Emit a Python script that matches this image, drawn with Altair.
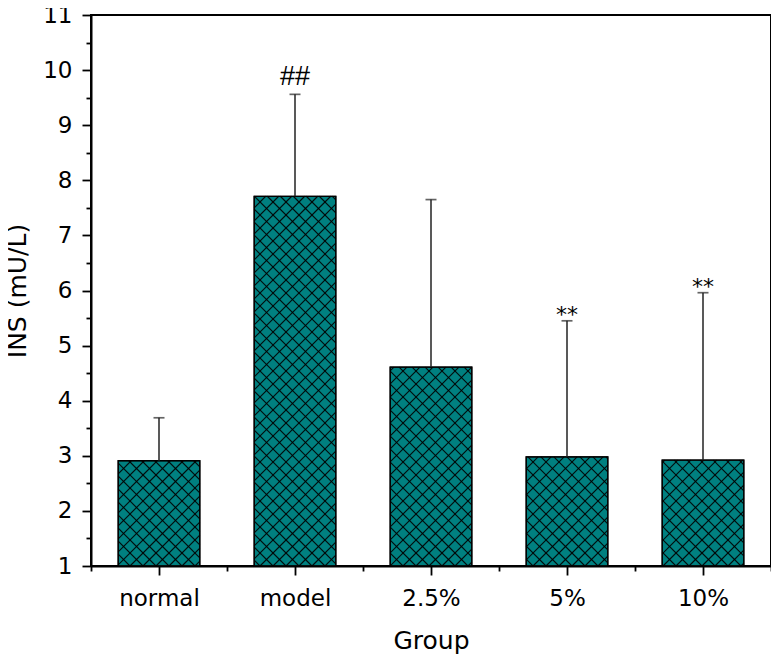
import json
import numpy as np
import pandas as pd
import altair as alt

# ---- data ----
groups = ["normal", "model", "2.5%", "5%", "10%"]
means = [2.91, 7.71, 4.61, 2.98, 2.92]
err_top = [3.69, 9.56, 7.65, 5.45, 5.96]
sig_marks = ["", "##", "", "**", "**"]
y_ticks = list(range(1, 12))

# ---- layout constants ----
W, H = 680, 551
X0, X1 = -0.5, 4.5
Y0, Y1 = 1, 11
HALF = 0.3           # half bar width in category units
HATCH = 13.0         # hatch spacing in px
FILL = "#008080"
FONT = "DejaVu Sans"

sx = W / (X1 - X0)
sy = H / (Y1 - Y0)

idx = list(range(len(groups)))
bars = pd.DataFrame({
    "i": idx,
    "lo": [i - HALF for i in idx],
    "hi": [i + HALF for i in idx],
    "mean": means,
    "base": [Y0] * len(idx),
    "err": err_top,
    "mark": sig_marks,
})

# hatch segments derived from the bar rectangles (crosshatch clipped to each bar)
rows = []
for i, v in zip(idx, means):
    L = (i - HALF - X0) * sx
    R = (i + HALF - X0) * sx
    T = (v - Y0) * sy
    for c in np.arange(np.floor((L - T) / HATCH) * HATCH, R + HATCH, HATCH):
        lo_, hi_ = max(0.0, L - c), min(T, R - c)
        if hi_ > lo_:
            rows.append({"x": (lo_ + c) / sx + X0, "x2": (hi_ + c) / sx + X0,
                         "y": lo_ / sy + Y0, "y2": hi_ / sy + Y0})
    for c in np.arange(np.floor(L / HATCH) * HATCH, R + T + HATCH, HATCH):
        lo_, hi_ = max(0.0, c - R), min(T, c - L)
        if hi_ > lo_:
            rows.append({"x": (c - lo_) / sx + X0, "x2": (c - hi_) / sx + X0,
                         "y": lo_ / sy + Y0, "y2": hi_ / sy + Y0})
hatch = pd.DataFrame(rows)

xscale = alt.Scale(domain=[X0, X1], nice=False, zero=False)
yscale = alt.Scale(domain=[Y0, Y1], nice=False, zero=False)

label_expr = "%s[round(datum.value)]" % json.dumps(groups)

x_axis = alt.Axis(values=idx, labelExpr=label_expr, title="Group", orient="bottom",
                  tickSize=9, tickWidth=1.8, tickColor="black", domainWidth=2,
                  domainColor="black", labelFont=FONT, labelFontSize=23,
                  labelColor="black", labelPadding=12, titleFont=FONT,
                  titleFontSize=25, titleFontWeight="normal", titleColor="black",
                  titlePadding=18, grid=False, labelFlush=False)
y_axis = alt.Axis(values=y_ticks, format="d", title="INS (mU/L)", orient="left",
                  tickSize=9, tickWidth=1.8, tickColor="black", domainWidth=2,
                  domainColor="black", labelFont=FONT, labelFontSize=23,
                  labelColor="black", labelPadding=10, titleFont=FONT,
                  titleFontSize=25, titleFontWeight="normal", titleColor="black",
                  titlePadding=12, grid=False, labelFlush=False)

base = alt.Chart(bars)

bar_layer = base.mark_rect(fill=FILL, stroke="black", strokeWidth=1.2).encode(
    x=alt.X("lo:Q", scale=xscale, axis=x_axis),
    x2="hi:Q",
    y=alt.Y("mean:Q", scale=yscale, axis=y_axis),
    y2="base:Q",
)

hatch_layer = alt.Chart(hatch).mark_rule(color="black", strokeWidth=1.15, opacity=0.9).encode(
    x=alt.X("x:Q", scale=xscale, axis=None),
    x2="x2:Q",
    y=alt.Y("y:Q", scale=yscale, axis=None),
    y2="y2:Q",
)

outline = base.mark_rect(fill=None, stroke="black", strokeWidth=1.3).encode(
    x=alt.X("lo:Q", scale=xscale, axis=None),
    x2="hi:Q",
    y=alt.Y("mean:Q", scale=yscale, axis=None),
    y2="base:Q",
)

err_line = base.mark_rule(color="#222222", strokeWidth=1.5).encode(
    x=alt.X("i:Q", scale=xscale, axis=None),
    y=alt.Y("mean:Q", scale=yscale, axis=None),
    y2="err:Q",
)
err_cap = base.mark_tick(orient="horizontal", size=11, thickness=1.7, color="#222222").encode(
    x=alt.X("i:Q", scale=xscale, axis=None),
    y=alt.Y("err:Q", scale=yscale, axis=None),
)

hash_text = base.transform_filter("datum.mark == '##'").mark_text(
    font="Liberation Sans", fontSize=27, baseline="alphabetic", dy=-9, color="black"
).encode(
    x=alt.X("i:Q", scale=xscale, axis=None),
    y=alt.Y("err:Q", scale=yscale, axis=None),
    text="mark:N",
)
star_text = base.transform_filter("datum.mark == '**'").mark_text(
    font=FONT, fontSize=22, baseline="alphabetic", dy=1, color="black"
).encode(
    x=alt.X("i:Q", scale=xscale, axis=None),
    y=alt.Y("err:Q", scale=yscale, axis=None),
    text="mark:N",
)

# minor ticks
x_minor = [i + 0.5 for i in range(-1, len(groups))]
y_minor = [t + 0.5 for t in y_ticks[:-1]]
minor_x_layer = alt.Chart(pd.DataFrame({"v": x_minor})).mark_point(opacity=0).encode(
    x=alt.X("v:Q", scale=xscale,
            axis=alt.Axis(values=x_minor, labels=False, domain=False, title=None,
                          tickSize=5, tickWidth=1.8, tickColor="black", grid=False,
                          orient="bottom")),
)
minor_y_layer = alt.Chart(pd.DataFrame({"v": y_minor})).mark_point(opacity=0).encode(
    y=alt.Y("v:Q", scale=yscale,
            axis=alt.Axis(values=y_minor, labels=False, domain=False, title=None,
                          tickSize=5, tickWidth=1.8, tickColor="black", grid=False,
                          orient="left")),
)

chart = alt.layer(
    bar_layer, hatch_layer, outline, err_line, err_cap, hash_text, star_text,
    minor_x_layer, minor_y_layer,
).resolve_axis(x="independent", y="independent").properties(
    width=W, height=H,
    autosize=alt.AutoSizeParams(type="none"),
    padding={"left": 83, "top": 7, "right": 0, "bottom": 89},
    background="white",
).configure_view(stroke="black", strokeWidth=2)

chart.save("out.html", embed_options={"renderer": "svg", "actions": False})
